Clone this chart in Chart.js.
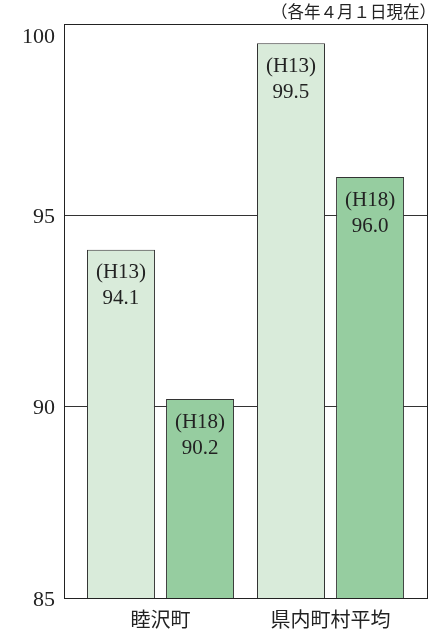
<!DOCTYPE html>
<html>
<head>
<meta charset="utf-8">
<script src="https://cdn.jsdelivr.net/npm/chart.js@4/dist/chart.umd.min.js"></script>
<style>
  html, body { margin: 0; padding: 0; background: #fff; }
  #wrap { width: 445px; height: 631px; }
</style>
</head>
<body>
<div id="wrap"><canvas id="rateChart" width="445" height="631"></canvas></div>
<script>
// data
var categories = ['睦沢町', '県内町村平均'];
var periods = ['H13', 'H18'];
var h13Values = [94.1, 99.5];
var h18Values = [90.2, 96.0];
var yMin = 85, yMax = 100, yStep = 5;
var note = '（各年４月１日現在）';

var serif = '"Liberation Serif", "DejaVu Serif", serif';
var jp = '"Noto Sans CJK JP", "Noto Sans", sans-serif';

// frame round the plot, top note, and the "100" label (sits below the top line)
var framePlugin = {
    id: 'frame',
    afterDatasetsDraw: function (chart) {
        var a = chart.chartArea, c = chart.ctx;
        var y = chart.scales.y;
        c.save();
        c.strokeStyle = '#222';
        c.lineWidth = 1;
        c.strokeRect(Math.round(a.left) + 0.5, Math.round(a.top) + 0.5,
            Math.round(a.right - a.left), Math.round(a.bottom - a.top));
        c.fillStyle = '#222';
        c.font = '16.5px ' + jp;
        c.textAlign = 'right';
        c.textBaseline = 'middle';
        c.fillText(note, a.right + 9, 12);
        c.font = '22px ' + serif;
        c.fillText(String(yMax), a.left - 9, y.getPixelForValue(yMax) + 13);
        c.restore();
    }
};

// "(H13)" / value inside top of each bar
var barLabels = {
    id: 'barLabels',
    afterDatasetsDraw: function (chart) {
        var c = chart.ctx;
        c.save();
        c.fillStyle = '#222';
        c.font = '21px ' + serif;
        c.textAlign = 'center';
        c.textBaseline = 'middle';
        chart.data.datasets.forEach(function (ds, di) {
            chart.getDatasetMeta(di).data.forEach(function (bar, i) {
                c.fillText('(' + ds.label + ')', bar.x, bar.y + 23);
                c.fillText(ds.data[i].toFixed(1), bar.x, bar.y + 49);
            });
        });
        c.restore();
    }
};

var ctx = document.getElementById('rateChart').getContext('2d');

new Chart(ctx, {
    type: 'bar',
    data: {
        labels: categories,
        datasets: [{
            label: periods[0],
            data: h13Values,
            backgroundColor: '#d9ebda',
            borderColor: '#333',
            borderWidth: 1,
            categoryPercentage: 0.93,
            barPercentage: 0.86
        }, {
            label: periods[1],
            data: h18Values,
            backgroundColor: '#96cda0',
            borderColor: '#333',
            borderWidth: 1,
            categoryPercentage: 0.93,
            barPercentage: 0.86
        }]
    },
    options: {
        responsive: false,
        animation: false,
        layout: { padding: { top: 24, right: 18, bottom: 0, left: 0 } },
        plugins: {
            legend: { display: false },
            tooltip: { enabled: false }
        },
        scales: {
            x: {
                grid: { display: false },
                border: { display: false },
                ticks: { color: '#222', padding: 1, font: { family: jp, size: 20 } },
                afterFit: function (scale) { scale.height = 33; },
                // equal gaps between all bars and frame edges
                afterBuildTicks: function (scale) {
                    scale._startValue = -0.5676;
                    scale._valueRange = 2.135;
                }
            },
            y: {
                min: yMin,
                max: yMax,
                ticks: {
                    stepSize: yStep,
                    color: '#222',
                    padding: 9,
                    labelOffset: 2,
                    font: { family: serif, size: 22 },
                    callback: function (v) { return v === yMax ? '' : v; }
                },
                grid: { color: '#333', lineWidth: 1, drawTicks: false },
                border: { color: '#222' },
                afterFit: function (scale) { scale.width = 64; }
            }
        }
    },
    plugins: [framePlugin, barLabels]
});
</script>
</body>
</html>
